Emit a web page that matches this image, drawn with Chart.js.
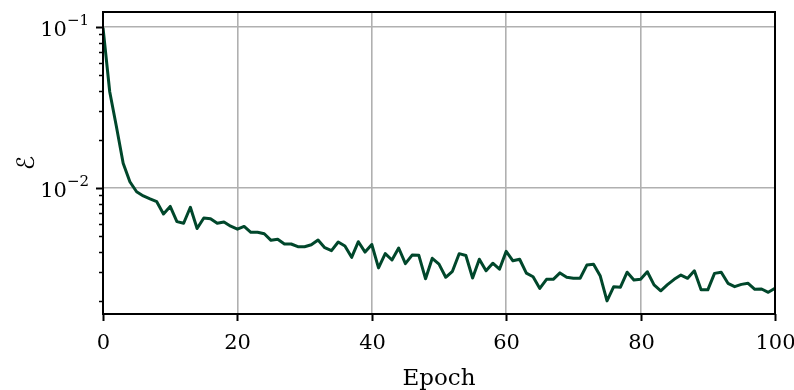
<!DOCTYPE html>
<html>
<head>
<meta charset="utf-8">
<script src="https://cdn.jsdelivr.net/npm/chart.js@4.4.1/dist/chart.umd.min.js"></script>
<style>
html, body { margin: 0; padding: 0; background: #ffffff; }
#wrap { width: 794px; height: 390px; }
</style>
</head>
<body>
<div id="wrap"><canvas id="lossChart"></canvas></div>
<script>
// epoch index (x axis)
var epochs = Array.from({ length: 101 }, function (_, i) { return i; });

// error per epoch (log scale)
var errorValues = [
    0.0990, 0.0396, 0.0240, 0.01423, 0.01094, 0.00948, 0.00892, 0.00855, 0.00822, 0.00690,
    0.00768, 0.00618, 0.00604, 0.00759, 0.00560, 0.00651, 0.00645, 0.00604, 0.00615, 0.00579,
    0.00555, 0.00577, 0.00531, 0.00531, 0.00520, 0.00473, 0.00480, 0.00449, 0.00449, 0.00432,
    0.00432, 0.00444, 0.00475, 0.00426, 0.00408, 0.00462, 0.00436, 0.00371, 0.00464, 0.00400,
    0.00446, 0.00319, 0.00391, 0.00357, 0.00424, 0.00339, 0.00383, 0.00382, 0.00273, 0.00366,
    0.00337, 0.00279, 0.00304, 0.00391, 0.00381, 0.00276, 0.00361, 0.00306, 0.00341, 0.00313,
    0.00404, 0.00353, 0.00361, 0.00296, 0.00281, 0.00238, 0.00271, 0.00271, 0.00297, 0.00279,
    0.00275, 0.00275, 0.00332, 0.00336, 0.00284, 0.00199, 0.00244, 0.00242, 0.00300, 0.00268,
    0.00271, 0.00302, 0.00250, 0.00230, 0.00251, 0.00271, 0.00288, 0.00275, 0.00306, 0.00233,
    0.00233, 0.00295, 0.00300, 0.00256, 0.00244, 0.00252, 0.00256, 0.00235, 0.00236, 0.00225,
    0.00238
];

var xTicks = [0, 20, 40, 60, 80, 100];
var yMajorTicks = [0.1, 0.01];
var yMajorExps = ['\u22121', '\u22122'];
var yMinorTicks = [0.002, 0.003, 0.004, 0.005, 0.006, 0.007, 0.008, 0.009,
                   0.02, 0.03, 0.04, 0.05, 0.06, 0.07, 0.08, 0.09];

var FONT = '"DejaVu Serif", serif';
var GRID = '#b0b0b0';
var LINE = '#00472b';

function isDecade(v) {
    var l = Math.log10(v);
    return Math.abs(l - Math.round(l)) < 1e-6;
}

// spines, tick marks and tick labels drawn on top, matplotlib style
var axesDecor = {
    id: 'axesDecor',
    afterDraw: function (chart) {
        var c = chart.ctx;
        var a = chart.chartArea;
        var xs = chart.scales.x;
        var ys = chart.scales.y;
        c.save();
        c.strokeStyle = '#000000';
        c.fillStyle = '#000000';

        // x ticks + labels
        c.lineWidth = 2;
        c.font = '21px ' + FONT;
        c.textAlign = 'center';
        c.textBaseline = 'alphabetic';
        xTicks.forEach(function (t) {
            var px = Math.round(xs.getPixelForValue(t)) + 0.5;
            c.beginPath();
            c.moveTo(px, a.bottom);
            c.lineTo(px, a.bottom + 7);
            c.stroke();
            c.fillText(String(t), px, a.bottom + 35);
        });

        // y minor ticks
        c.lineWidth = 1.5;
        yMinorTicks.forEach(function (t) {
            var py = Math.round(ys.getPixelForValue(t)) + 0.5;
            c.beginPath();
            c.moveTo(a.left - 4, py);
            c.lineTo(a.left, py);
            c.stroke();
        });

        // y major ticks + labels 10^n
        c.lineWidth = 2;
        yMajorTicks.forEach(function (t, i) {
            var py = Math.round(ys.getPixelForValue(t)) + 0.5;
            c.beginPath();
            c.moveTo(a.left - 7, py);
            c.lineTo(a.left, py);
            c.stroke();
            c.font = '15px ' + FONT;
            var wExp = c.measureText(yMajorExps[i]).width;
            c.font = '21px ' + FONT;
            var wBase = c.measureText('10').width;
            var right = a.left - 14;
            c.textAlign = 'left';
            c.fillText('10', right - wExp - wBase, py + 8);
            c.font = '15px ' + FONT;
            c.fillText(yMajorExps[i], right - wExp, py - 3);
        });

        // spines
        c.lineWidth = 2;
        c.strokeRect(a.left, a.top, a.right - a.left, a.bottom - a.top);

        // axis titles
        c.font = '23px ' + FONT;
        c.textAlign = 'center';
        c.fillText('Epoch', (a.left + a.right) / 2, 385);
        c.translate(34, (a.top + a.bottom) / 2);
        c.rotate(-Math.PI / 2);
        c.font = '24px "DejaVu Sans", sans-serif';
        c.fillText('\u2130', 0, 0);
        c.restore();
    }
};

function initLossChart() {
    var ctx = document.getElementById('lossChart');
    var points = epochs.map(function (e, i) { return { x: e, y: errorValues[i] }; });

    new Chart(ctx, {
        type: 'line',
        data: {
            datasets: [{
                data: points,
                borderColor: LINE,
                borderWidth: 3,
                pointRadius: 0,
                tension: 0,
                fill: false,
                borderJoinStyle: 'round'
            }]
        },
        options: {
            responsive: true,
            maintainAspectRatio: false,
            animation: false,
            events: [],
            layout: { padding: { top: 12, left: 103, right: 19, bottom: 76 } },
            plugins: { legend: { display: false }, tooltip: { enabled: false } },
            scales: {
                x: {
                    type: 'linear',
                    min: 0,
                    max: 100,
                    ticks: { display: false, stepSize: 20 },
                    grid: { color: GRID, lineWidth: 1.6, drawTicks: false },
                    border: { display: false }
                },
                y: {
                    type: 'logarithmic',
                    min: 0.00165,
                    max: 0.1239,
                    ticks: { display: false },
                    grid: {
                        drawTicks: false,
                        lineWidth: 1.6,
                        color: function (context) {
                            var v = context.tick && context.tick.value;
                            return v && isDecade(v) ? GRID : 'rgba(0,0,0,0)';
                        }
                    },
                    border: { display: false }
                }
            }
        },
        plugins: [axesDecor]
    });
}

document.addEventListener('DOMContentLoaded', function () {
    initLossChart();
});
</script>
</body>
</html>
